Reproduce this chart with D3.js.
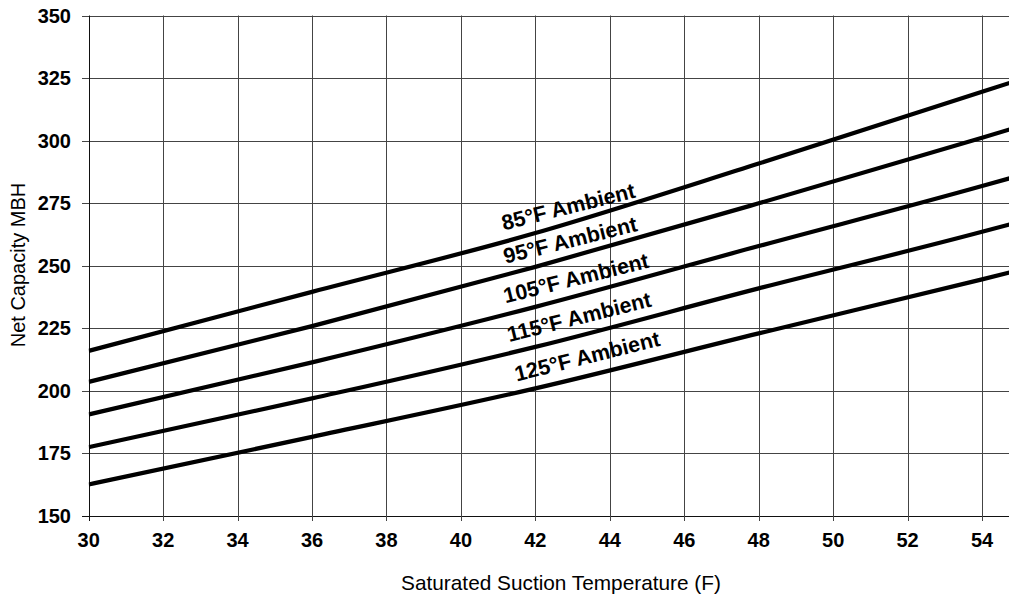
<!DOCTYPE html>
<html>
<head>
<meta charset="utf-8">
<script src="https://cdn.jsdelivr.net/npm/d3@7"></script>
<style>
  body { margin: 0; background: #fff; }
  text { font-family: "Liberation Sans", Arial, sans-serif; }
</style>
</head>
<body>
<svg id="chart" width="1009" height="600"></svg>
<script>
// saturated suction temperature (F)
const temps = [30, 36, 42, 48, 54, 55]

// net capacity MBH per ambient temperature
const amb85 = [215.9, 239.5, 263.0, 290.8, 319.5, 324.3]
const amb95 = [203.5, 225.8, 249.5, 274.9, 301.1, 305.6]
const amb105 = [190.5, 211.3, 233.5, 257.8, 281.8, 286.0]
const amb115 = [177.4, 196.9, 217.5, 240.9, 263.5, 267.5]
const amb125 = [162.5, 181.5, 200.9, 222.9, 244.5, 248.2]

const seriesNames = ['85°F Ambient', '95°F Ambient', '105°F Ambient', '115°F Ambient', '125°F Ambient']
const seriesValues = [amb85, amb95, amb105, amb115, amb125]

const xTicks = [30, 32, 34, 36, 38, 40, 42, 44, 46, 48, 50, 52, 54]
const yTicks = [150, 175, 200, 225, 250, 275, 300, 325, 350]

const svg = d3.select('#chart')

const x = d3.scaleLinear().domain([30, 54.67]).range([88.7, 1007])
const y = d3.scaleLinear().domain([150, 350]).range([515.7, 15.5])

// grid
svg.append('g')
    .selectAll('line')
    .data(yTicks)
    .enter()
    .append('line')
    .attr('x1', 82).attr('x2', 1009)
    .attr('y1', d => Math.round(y(d)) + 0.5).attr('y2', d => Math.round(y(d)) + 0.5)
    .attr('stroke', d => d === 150 ? '#111' : '#444')
    .attr('stroke-width', 1)

svg.append('g')
    .selectAll('line')
    .data(xTicks)
    .enter()
    .append('line')
    .attr('x1', d => Math.round(x(d)) + 0.5).attr('x2', d => Math.round(x(d)) + 0.5)
    .attr('y1', y(350)).attr('y2', 521)
    .attr('stroke', d => d === 30 ? '#111' : '#444')
    .attr('stroke-width', 1)

// tick labels
svg.append('g')
    .selectAll('text')
    .data(yTicks)
    .enter()
    .append('text')
    .attr('x', 71)
    .attr('y', d => y(d))
    .attr('dy', '0.35em')
    .attr('text-anchor', 'end')
    .style('font-size', '20px')
    .style('font-weight', 'bold')
    .text(d => d)

svg.append('g')
    .selectAll('text')
    .data(xTicks)
    .enter()
    .append('text')
    .attr('x', d => x(d))
    .attr('y', 547)
    .attr('text-anchor', 'middle')
    .style('font-size', '20px')
    .style('font-weight', 'bold')
    .text(d => d)

// axis titles
svg.append('text')
    .attr('x', 561).attr('y', 590)
    .attr('text-anchor', 'middle')
    .style('font-size', '20.8px')
    .text('Saturated Suction Temperature (F)')

svg.append('text')
    .attr('transform', 'translate(25,265) rotate(-90)')
    .attr('text-anchor', 'middle')
    .style('font-size', '20px')
    .text('Net Capacity MBH')

// curves
svg.append('clipPath').attr('id', 'plot')
    .append('rect')
    .attr('x', x(30)).attr('y', 0)
    .attr('width', 1009 - x(30)).attr('height', y(150))

const line = d3.line()
    .x((d, i) => x(temps[i]))
    .y(d => y(d))
    .curve(d3.curveMonotoneX)

svg.append('g')
    .attr('clip-path', 'url(#plot)')
    .selectAll('path')
    .data(seriesValues)
    .enter()
    .append('path')
    .attr('d', line)
    .attr('fill', 'none')
    .attr('stroke', '#000')
    .attr('stroke-width', 4.2)

// curve labels, placed just above each curve
const labelAt = [41.15, 41.2, 41.2, 41.3, 41.5]
const valueAt = (vals, t) => {
    const i = d3.bisectRight(temps, t) - 1
    const f = (t - temps[i]) / (temps[i + 1] - temps[i])
    return vals[i] + f * (vals[i + 1] - vals[i])
}

svg.append('g')
    .selectAll('text')
    .data(seriesNames)
    .enter()
    .append('text')
    .attr('transform', (d, i) => {
        const px = x(labelAt[i])
        const py = y(valueAt(seriesValues[i], labelAt[i])) - 11
        return `translate(${px},${py}) rotate(-14)`
    })
    .style('font-size', '21.5px')
    .style('font-weight', 'bold')
    .text(d => d)
</script>
</body>
</html>
